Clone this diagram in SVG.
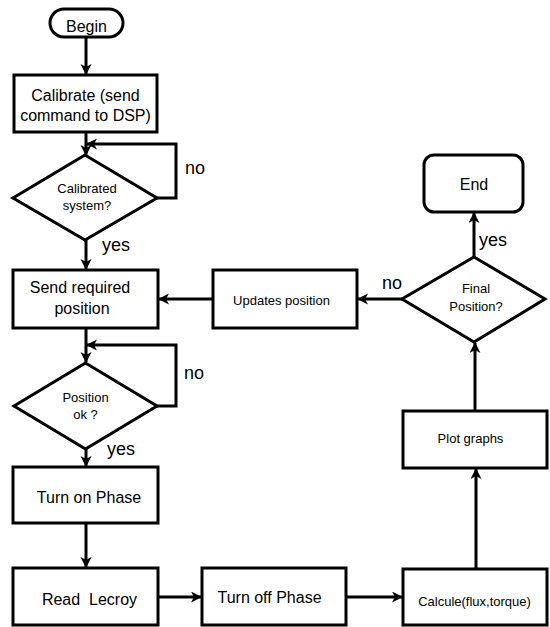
<svg xmlns="http://www.w3.org/2000/svg" width="550" height="627" viewBox="0 0 550 627">
<style>
.box{fill:#fff;stroke:#000;stroke-width:3}
.t{font-family:"Liberation Sans",Arial,sans-serif;font-size:16px;text-anchor:middle;fill:#000}
.s{font-family:"Liberation Sans",Arial,sans-serif;font-size:13px;text-anchor:middle;fill:#000}
.l{font-family:"Liberation Sans",Arial,sans-serif;font-size:18px;fill:#000}
.c{fill:none;stroke:#000;stroke-width:3}
</style>
<defs>
<marker id="ah" markerUnits="userSpaceOnUse" markerWidth="12" markerHeight="12" refX="10" refY="5.5" orient="auto">
<path d="M0,0 L11,5.5 L0,11 L3,5.5 z" fill="#000"/>
</marker>
</defs>
<rect width="550" height="627" fill="#fff"/>
<g id="connectors">
<path class="c" d="M86,37 L86,74" marker-end="url(#ah)"/>
<path class="c" d="M86,132 L86,155" marker-end="url(#ah)"/>
<path class="c" d="M157,198 L176,198 L176,144 L87,144" marker-end="url(#ah)"/>
<path class="c" d="M86,240 L86,269" marker-end="url(#ah)"/>
<path class="c" d="M86,328 L86,362" marker-end="url(#ah)"/>
<path class="c" d="M157,406 L176,406 L176,345 L87,345" marker-end="url(#ah)"/>
<path class="c" d="M86,449 L86,466" marker-end="url(#ah)"/>
<path class="c" d="M86,523 L86,567" marker-end="url(#ah)"/>
<path class="c" d="M158,597 L201,597" marker-end="url(#ah)"/>
<path class="c" d="M346,597 L402,597" marker-end="url(#ah)"/>
<path class="c" d="M476,568 L476,469" marker-end="url(#ah)"/>
<path class="c" d="M475,411 L475,343" marker-end="url(#ah)"/>
<path class="c" d="M474,257 L474,213" marker-end="url(#ah)"/>
<path class="c" d="M402,299 L358,299" marker-end="url(#ah)"/>
<path class="c" d="M213,299 L159,299" marker-end="url(#ah)"/>
<text class="l" x="185" y="174">no</text>
<text class="l" x="102" y="251">yes</text>
<text class="l" x="184" y="379">no</text>
<text class="l" x="107" y="455">yes</text>
<text class="l" x="479" y="246">yes</text>
<text class="l" x="382" y="289">no</text>
</g>
<g id="begin">
<rect class="box" x="50" y="9" width="73" height="28" rx="14"/>
<text class="t" x="86.5" y="31.5">Begin</text>
</g>
<g id="calibrate">
<rect class="box" x="14" y="75" width="143" height="57"/>
<text class="t" x="85.5" y="101">Calibrate (send</text>
<text class="t" x="85.5" y="121">command to DSP)</text>
</g>
<g id="calibrated">
<polygon class="box" points="85,155 157,198 85,240 13,198"/>
<text class="s" x="87" y="192.5">Calibrated</text>
<text class="s" x="87" y="209.5">system?</text>
</g>
<g id="send">
<rect class="box" x="13" y="270" width="145" height="58"/>
<text class="t" x="80" y="293">Send required</text>
<text class="t" x="82" y="314">position</text>
</g>
<g id="positionok">
<polygon class="box" points="85.5,363 157,406 85.5,449 14,406"/>
<text class="s" x="85.5" y="401.5">Position</text>
<text class="s" x="85.5" y="418.5">ok ?</text>
</g>
<g id="turnon">
<rect class="box" x="13" y="467" width="145" height="56"/>
<text class="t" x="89" y="503">Turn on Phase</text>
</g>
<g id="read">
<rect class="box" x="13" y="568" width="145" height="57"/>
<text class="t" x="89.5" y="605" xml:space="preserve">Read  Lecroy</text>
</g>
<g id="turnoff">
<rect class="box" x="202" y="568" width="144" height="57"/>
<text class="t" x="269.5" y="603">Turn off Phase</text>
</g>
<g id="calcule">
<rect class="box" x="403" y="569" width="144" height="56"/>
<text class="s" x="474.5" y="605.5">Calcule(flux,torque)</text>
</g>
<g id="plot">
<rect class="box" x="403" y="411" width="144" height="57"/>
<text class="s" x="470.5" y="442.5">Plot graphs</text>
</g>
<g id="final">
<polygon class="box" points="474,257 545,299 474,342 402,299"/>
<text class="s" x="476" y="292.5">Final</text>
<text class="s" x="476" y="310.5">Position?</text>
</g>
<g id="end">
<rect class="box" x="424" y="155" width="99" height="57" rx="10"/>
<text class="t" x="474" y="190">End</text>
</g>
<g id="updates">
<rect class="box" x="213" y="270" width="144" height="58"/>
<text class="s" x="281.5" y="304.5">Updates position</text>
</g>
</svg>
